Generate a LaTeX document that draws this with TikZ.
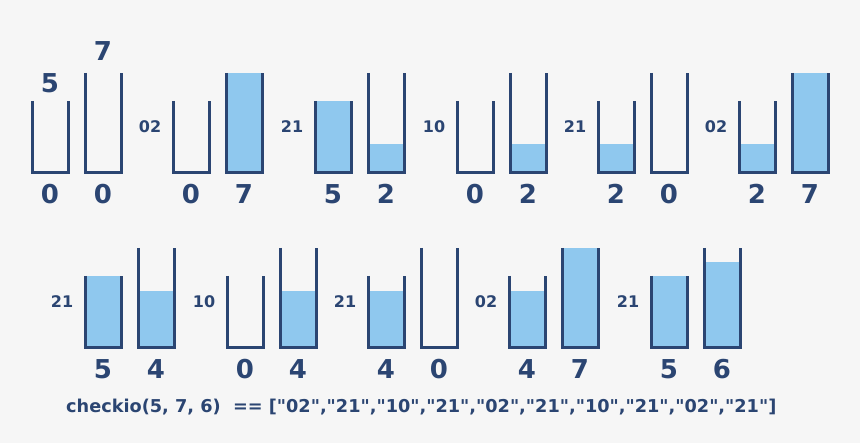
\documentclass[tikz,border=0pt]{standalone}
\usepackage{fontspec}
\setmainfont{DejaVu Sans}[Ligatures=TeXOff]
\usepackage{xcolor}
\definecolor{cInk}{HTML}{2B4572}
\definecolor{cWater}{HTML}{8FC8EE}
\definecolor{cBack}{HTML}{F6F6F6}
\usetikzlibrary{positioning}
\tikzset{
  jug-wall/.style={draw=cInk,line width=3pt,line join=miter},
  jug-water/.style={fill=cWater},
  num-big/.style={text=cInk,inner sep=0pt,
    font=\fontsize{26}{26}\selectfont\bfseries},
  num-step/.style={text=cInk,inner sep=0pt,
    font=\fontsize{16}{16}\selectfont\bfseries},
  call-line/.style={text=cInk,inner sep=0pt,anchor=base west,
    font=\fontsize{17.7}{18}\selectfont\bfseries},
}
\newcommand{\jugunit}{14.3}
% one state: jug of 5 and jug of 7, left edge #2, bottom #3
\newcommand{\jugpair}[6]{%
  \fill[jug-water] (#2,#3) rectangle ++(36,-#4*\jugunit);
  \fill[jug-water] (#2+53,#3) rectangle ++(36,-#5*\jugunit);
  \draw[jug-wall] (#2,#3-72) -- (#2,#3) -- (#2+36,#3) -- (#2+36,#3-72);
  \draw[jug-wall] (#2+53,#3-100) -- (#2+53,#3) -- (#2+89,#3) -- (#2+89,#3-100);
  \node[num-big] (#1a) at (#2+18,#3+21) {#4};
  \node[num-big] (#1b) at (#2+71,#3+21) {#5};
  \if\relax\detokenize{#6}\relax\else
    \node[num-step] (#1s) at (#2-23,#3-46) {#6};
  \fi
}

\begin{document}
\begin{tikzpicture}[x=1pt,y=-1pt]
  \fill[cBack] (0,0) rectangle (860,443);
  \useasboundingbox (0,0) rectangle (860,443);
  % row 1
  \jugpair{p1}{32}{173}{0}{0}{}
  \node[num-big] (cap5) at (50,83) {5};
  \node[num-big] (cap7) at (103,51) {7};
  \jugpair{p2}{173}{173}{0}{7}{02}
  \jugpair{p3}{315}{173}{5}{2}{21}
  \jugpair{p4}{457}{173}{0}{2}{10}
  \jugpair{p5}{598}{173}{2}{0}{21}
  \jugpair{p6}{739}{173}{2}{7}{02}
  % row 2
  \jugpair{p7}{85}{348}{5}{4}{21}
  \jugpair{p8}{227}{348}{0}{4}{10}
  \jugpair{p9}{368}{348}{4}{0}{21}
  \jugpair{p10}{509}{348}{4}{7}{02}
  \jugpair{p11}{651}{348}{5}{6}{21}
  \node[call-line] (call) at (66,413)
    {checkio(5, 7, 6)\ \ == ["02","21","10","21","02","21","10","21","02","21"]};
\end{tikzpicture}
\end{document}
